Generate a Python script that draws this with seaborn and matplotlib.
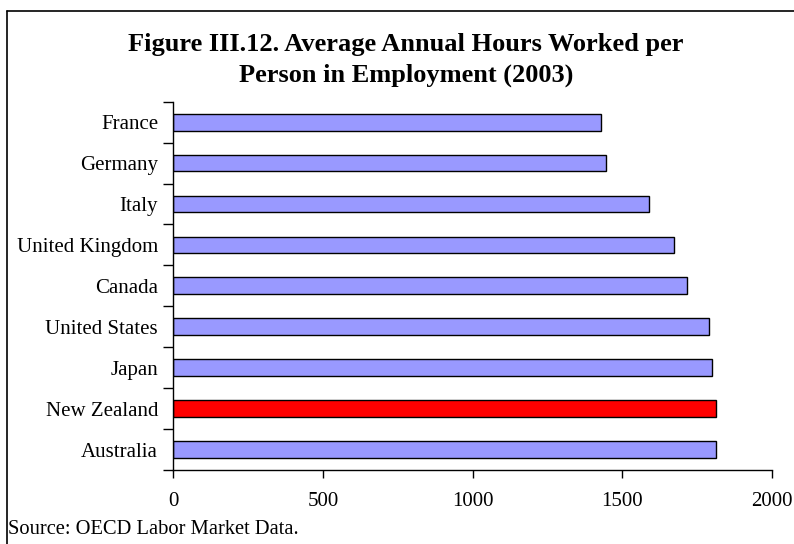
import matplotlib
matplotlib.use("Agg")
import matplotlib.pyplot as plt
import seaborn as sns
import pandas as pd
import numpy as np
from matplotlib.lines import Line2D

countries = ["France", "Germany", "Italy", "United Kingdom", "Canada",
             "United States", "Japan", "New Zealand", "Australia"]
hours = [1431, 1446, 1591, 1673, 1718, 1792, 1801, 1813, 1814]
bar_colors = ["#9999FF"] * 7 + ["#FF0000"] + ["#9999FF"]
x_ticks = [0, 500, 1000, 1500, 2000]

sns.set_theme(style="white")
plt.rcParams['font.family'] = ['Liberation Serif', 'DejaVu Serif']
plt.rcParams['text.color'] = 'black'
plt.rcParams['xtick.color'] = 'black'
plt.rcParams['ytick.color'] = 'black'
plt.rcParams['axes.labelcolor'] = 'black'

df = pd.DataFrame({"country": countries, "hours": hours})

fig = plt.figure(figsize=(7.94, 5.44), dpi=100)
W, H = 794, 544
ax = fig.add_axes([173.3 / W, 1 - 470 / H, (771.7 - 173.3) / W, (470 - 101.7) / H])

sns.barplot(data=df, y="country", x="hours", hue="country",
            palette=dict(zip(countries, bar_colors)), order=countries,
            orient="h", width=0.41, edgecolor="black", linewidth=1.0,
            legend=False, ax=ax, saturation=1)

ax.set_xlim(0, 2000)
ax.set_ylim(len(countries) - 0.5, -0.5)
ax.set_xticks(x_ticks)
ax.set_xticklabels([str(t) for t in x_ticks], fontsize=15)
ax.set_yticks(range(len(countries)))
ax.set_yticklabels(countries, fontsize=15)
ax.set_yticks(np.arange(-0.5, len(countries), 1.0), minor=True)
ax.tick_params(axis="y", which="major", length=0, pad=11)
ax.tick_params(axis="y", which="minor", length=7, width=1, color="black", direction="out", left=True)
ax.tick_params(axis="x", which="major", length=6, width=1, color="black", direction="out", bottom=True, pad=9.5)
ax.set_xlabel("")
ax.set_ylabel("")
for s in ["top", "right"]:
    ax.spines[s].set_visible(False)
for s in ["left", "bottom"]:
    ax.spines[s].set_color("black")
    ax.spines[s].set_linewidth(1.0)

fig.text(406 / W, 1 - 60 / H, "Figure III.12. Average Annual Hours Worked per\nPerson in Employment (2003)",
         ha="center", va="center", fontsize=19, fontweight="bold", linespacing=1.42, color="black")
fig.text(8 / W, 1 - 530 / H, "Source: OECD Labor Market Data.", ha="left", va="center", fontsize=14.8, color="black")

fig.add_artist(Line2D([7 / W, 1.0], [1 - 11 / H, 1 - 11 / H], transform=fig.transFigure, color="black", lw=1.2))
fig.add_artist(Line2D([7 / W, 7 / W], [0.0, 1 - 11 / H], transform=fig.transFigure, color="black", lw=1.2))

fig.savefig("out.png", dpi=100, facecolor="white")
